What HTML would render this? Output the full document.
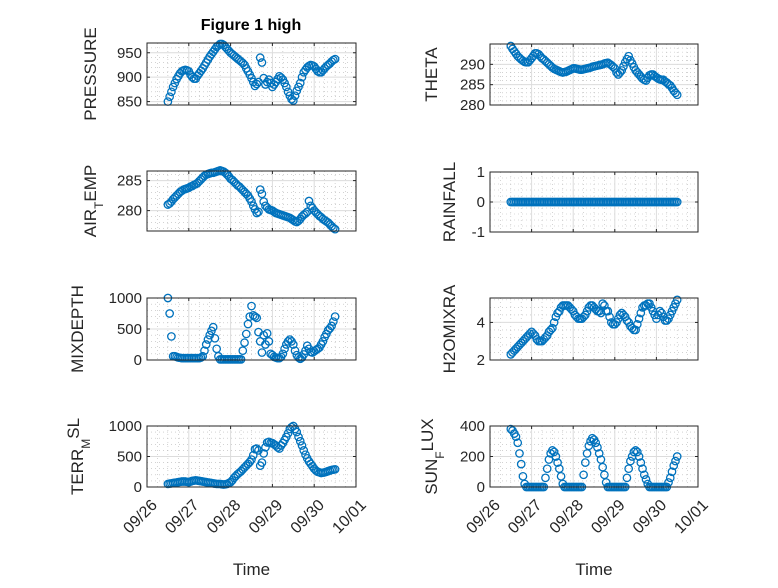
<!DOCTYPE html>
<html><head><meta charset="utf-8"><style>
body{margin:0;background:#fff}
svg{font-family:"Liberation Sans","DejaVu Sans",sans-serif}
</style></head><body>
<svg id="fig" width="778" height="583" viewBox="0 0 778 583">
<rect width="778" height="583" fill="#fff"/>
<text x="251" y="30" text-anchor="middle" font-size="16" font-weight="bold" fill="#000">Figure 1 high</text>
</svg>
<script>
const pressure=[850,860,870,880,888,896,902,908,912,914,
915,914,912,905,900,897,897,903,908,913,
918,924,930,936,942,947,952,957,962,965,
968,968,966,962,958,954,950,947,944,941,
938,935,932,929,925,918,912,905,898,890,
882,886,890,940,930,898,885,890,895,888,
880,885,890,896,902,899,895,888,880,870,
862,855,852,862,872,880,888,900,910,915,
920,923,925,924,922,917,912,910,910,914,
918,922,925,928,932,935,937];
const airTemp=[281,281.2,281.5,281.9,282.2,282.5,282.8,283.1,283.3,283.5,
283.6,283.7,283.8,284,284.1,284.3,284.4,284.6,284.9,285.2,
285.5,285.8,286,286.1,286.2,286.3,286.3,286.4,286.5,286.6,
286.7,286.6,286.5,286.3,286,285.7,285.3,285.1,284.8,284.5,
284.2,284,283.7,283.4,283.1,282.8,282.5,282,281.5,280.8,
280.2,279.6,279.8,283.5,282.8,281.5,280.8,280.5,280.2,280.1,
280,279.8,279.6,279.5,279.4,279.3,279.2,279.1,279,278.9,
278.8,278.6,278.4,278.2,278.1,278.3,278.6,279,279.3,279.5,
279.8,281.6,280.8,280.4,280,279.7,279.4,279.1,278.9,278.6,
278.4,278.2,278,277.7,277.4,277.1,276.9];
const mixDepth=[1000,750,380,60,60,50,40,35,30,30,
30,30,30,30,30,30,30,30,30,40,
60,150,250,330,400,470,530,350,180,60,
10,10,10,10,10,10,10,10,10,10,
10,10,10,150,280,420,580,700,870,720,
700,680,450,300,120,400,250,430,300,100,
80,50,40,30,30,50,100,180,250,300,
330,300,250,150,80,40,20,40,90,150,
230,180,130,120,140,160,180,200,250,300,
370,420,480,510,550,620,700];
const terrMsl=[50,55,60,65,70,75,80,85,90,90,
90,85,80,90,100,105,110,105,100,95,
90,85,80,75,70,65,60,55,50,50,
50,45,40,45,50,65,80,110,150,180,
210,235,260,290,320,350,380,410,450,520,
620,630,600,350,400,550,650,730,740,720,
720,700,680,650,630,680,720,770,820,880,
950,980,1000,950,900,820,750,680,600,530,
470,420,380,340,300,270,250,240,230,235,
240,250,260,270,280,285,290];
const theta=[294.5,293.8,293.2,292.6,292,291.6,291.2,290.9,290.6,290.5,
290.5,291,291.5,292.1,292.7,292.7,292.5,292,291.5,291.2,
290.8,290.4,290,289.6,289.2,288.9,288.7,288.5,288.3,288.1,
288,288.1,288.2,288.4,288.6,288.8,289,289,288.9,288.8,
288.7,288.7,288.8,288.9,289,289.1,289.2,289.4,289.5,289.6,
289.7,289.8,289.9,290,290.2,290.3,290.4,290.1,289.8,289.4,
289,288,287.5,288,288.5,289.5,290.5,291.3,292,291,
290.2,289.3,288.5,288,287.5,287,286.5,286.2,286,286.7,
287.3,287.5,287.5,287.1,286.8,286.5,286.3,286.2,286.2,285.8,
285.5,285.1,284.8,284.2,283.5,283,282.5];
const rainfall=[0,0,0,0,0,0,0,0,0,0,
0,0,0,0,0,0,0,0,0,0,
0,0,0,0,0,0,0,0,0,0,
0,0,0,0,0,0,0,0,0,0,
0,0,0,0,0,0,0,0,0,0,
0,0,0,0,0,0,0,0,0,0,
0,0,0,0,0,0,0,0,0,0,
0,0,0,0,0,0,0,0,0,0,
0,0,0,0,0,0,0,0,0,0,
0,0,0,0,0,0,0];
const h2oMix=[2.3,2.4,2.5,2.6,2.7,2.8,2.9,3.0,3.1,3.2,
3.3,3.4,3.5,3.4,3.3,3.1,3.0,3.0,3.0,3.1,
3.2,3.3,3.5,3.6,3.7,4.0,4.3,4.5,4.6,4.8,
4.9,4.9,4.9,4.9,4.8,4.7,4.6,4.4,4.3,4.2,
4.2,4.2,4.3,4.4,4.6,4.8,4.9,4.9,4.8,4.7,
4.6,4.6,4.5,5.0,4.9,4.6,4.6,4.3,4.0,3.9,
3.9,4.0,4.2,4.4,4.5,4.4,4.3,4.1,4.0,3.8,
3.7,3.6,3.6,3.9,4.2,4.5,4.8,4.9,4.9,5.0,
5.0,4.8,4.6,4.4,4.2,4.4,4.6,4.5,4.3,4.1,
4.1,4.2,4.4,4.6,4.8,5.0,5.2];
const sunFlux=[380,370,350,330,290,220,150,70,20,0,
0,0,0,0,0,0,0,0,0,0,
60,120,180,220,240,230,200,160,120,70,
20,0,0,0,0,0,0,0,0,0,
0,0,80,160,220,270,300,320,310,290,
260,220,180,130,80,30,0,0,0,0,
0,0,0,0,0,0,0,60,120,170,
200,230,240,230,200,160,120,80,50,20,
0,0,0,0,0,0,0,0,0,0,
0,30,60,100,140,170,200];
const startDay=0.5, stepDay=1/24;
const dateTicks=["09/26","09/27","09/28","09/29","09/30","10/01"];
const pressureTicks=[850,900,950], airTicks=[280,285], mixTicks=[0,500,1000], terrTicks=[0,500,1000];
const thetaTicks=[280,285,290], rainTicks=[-1,0,1], h2oTicks=[2,4], sunTicks=[0,200,400];

const NS="http://www.w3.org/2000/svg";
const svg=document.getElementById('fig');
function mk(tag,attrs,parent){const e=document.createElementNS(NS,tag);for(const k in attrs)e.setAttribute(k,attrs[k]);(parent||svg).appendChild(e);return e;}

function panel(name,x0,x1,y0,y1,ymin,ymax,ticks,data,label,showDates,labelX){
  const g=mk('g',{});
  
  
  const sx=d=>x0+(d/5)*(x1-x0);
  const sy=v=>y1-(v-ymin)/(ymax-ymin)*(y1-y0);
  mk('rect',{x:x0,y:y0,width:x1-x0,height:y1-y0,fill:'#fff'},g);
  for(let q=0;q<=20;q++){if(q%4===0)continue;const X=sx(q/4);mk('line',{x1:X,x2:X,y1:y0,y2:y1,stroke:'#b8b8b8','stroke-width':0.6,'stroke-dasharray':'1 3'},g);}
  const tstep=ticks[1]-ticks[0];const minor=tstep/5;
  for(let v=Math.ceil(ymin/minor)*minor;v<=ymax+1e-9;v+=minor){if(Math.abs(Math.round(v/tstep)*tstep-v)<1e-6)continue;const Y=sy(v);mk('line',{x1:x0,x2:x1,y1:Y,y2:Y,stroke:'#b8b8b8','stroke-width':0.6,'stroke-dasharray':'1 3'},g);}
  for(let d=1;d<5;d++){const X=sx(d);mk('line',{x1:X,x2:X,y1:y0,y2:y1,stroke:'#dcdcdc','stroke-width':1},g);}
  ticks.forEach(v=>{const Y=sy(v);mk('line',{x1:x0,x2:x1,y1:Y,y2:Y,stroke:'#dcdcdc','stroke-width':1},g);
    mk('line',{x1:x0,x2:x0+3,y1:Y,y2:Y,stroke:'#262626'},g);mk('line',{x1:x1,x2:x1-3,y1:Y,y2:Y,stroke:'#262626'},g);
    const t=mk('text',{x:x0-5,y:Y+5,'text-anchor':'end','font-size':15,fill:'#262626'},g);t.textContent=v;
    
    });
  dateTicks.forEach((lab,i)=>{const X=sx(i);mk('line',{x1:X,x2:X,y1:y1,y2:y1-3,stroke:'#262626'},g);mk('line',{x1:X,x2:X,y1:y0,y2:y0+3,stroke:'#262626'},g);
    if(showDates){const ax=X+11, ay=y1+19;const t=mk('text',{x:ax,y:ay,'text-anchor':'end','font-size':16,fill:'#262626',transform:`rotate(-45 ${ax} ${ay})`},g);t.textContent=lab;
      
      }});
  data.forEach((v,i)=>{const c=mk('circle',{cx:sx(startDay+i*stepDay),cy:sy(v),r:3.7,fill:'none',stroke:'#0072BD','stroke-width':1.3},g);
    
    });
  mk('rect',{x:x0,y:y0,width:x1-x0,height:y1-y0,fill:'none',stroke:'#262626','stroke-width':1},g);
  const cy=(y0+y1)/2;
  const t=mk('text',{x:labelX,y:cy,'text-anchor':'middle','font-size':17,fill:'#262626',transform:`rotate(-90 ${labelX} ${cy})`},g);
  
  
  label.forEach(p=>{const s=mk('tspan',{},t);s.textContent=p[0];if(p[1])s.setAttribute('baseline-shift',p[1]);if(p[2])s.setAttribute('font-size',p[2]);});
  if(showDates){const tt=mk('text',{x:(x0+x1)/2,y:575,'text-anchor':'middle','font-size':17,fill:'#262626'},g);tt.textContent='Time';
    
    }
}
panel('pressure',147,356,43,105,843,970,pressureTicks,pressure,[['PRESSURE']],false,96);
panel('air-temp',147,356,171,231,276.6,286.6,airTicks,airTemp,[['AIR'],['T','sub','12'],['EMP','0']],false,96);
panel('mixdepth',147,356,298,360,0,1000,mixTicks,mixDepth,[['MIXDEPTH']],false,83);
panel('terr-msl',147,356,426,487,0,1000,terrTicks,terrMsl,[['TERR'],['M','sub','12'],['SL','4']],true,83);
panel('theta',490,698,44,105,280,295,thetaTicks,theta,[['THETA']],false,437);
panel('rainfall',490,698,172,232,-1,1,rainTicks,rainfall,[['RAINFALL']],false,455);
panel('h2omixra',490,698,298,360,2,5.3,h2oTicks,h2oMix,[['H2OMIXRA']],false,455);
panel('sun-flux',490,698,426,487,0,400,sunTicks,sunFlux,[['SUN'],['F','sub','12'],['LUX','4']],true,437);
</script>
</body></html>
